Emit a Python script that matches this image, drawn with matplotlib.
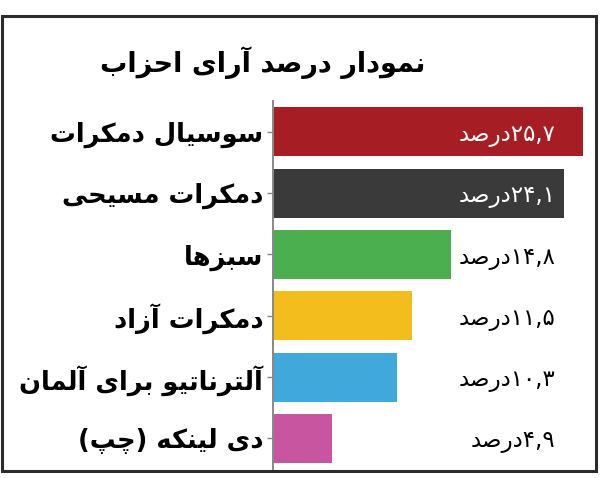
import matplotlib
matplotlib.use("Agg")
import matplotlib.pyplot as plt
from matplotlib.patches import Rectangle

# ---------------- data ----------------
title = "نمودار درصد آرای احزاب"
parties = ["سوسیال دمکرات", "دمکرات مسیحی", "سبزها", "دمکرات آزاد",
           "آلترناتیو برای آلمان", "دی لینکه (چپ)"]
values = [25.7, 24.1, 14.8, 11.5, 10.3, 4.9]
value_labels = ["۲۵,۷درصد", "۲۴,۱درصد", "۱۴,۸درصد", "۱۱,۵درصد", "۱۰,۳درصد", "۴,۹درصد"]
colors = ["#A61E23", "#3A3A3A", "#4BAE4F", "#F2BD1D", "#41A8DB", "#C8559F"]

# ------------- minimal Arabic-script shaping + RTL ordering -------------
FORMS = {  # isolated, final, initial, medial
    'ا': ('\uFE8D', '\uFE8E', None, None),
    'آ': ('\uFE81', '\uFE82', None, None),
    'ب': ('\uFE8F', '\uFE90', '\uFE91', '\uFE92'),
    'پ': ('\uFB56', '\uFB57', '\uFB58', '\uFB59'),
    'ت': ('\uFE95', '\uFE96', '\uFE97', '\uFE98'),
    'ح': ('\uFEA1', '\uFEA2', '\uFEA3', '\uFEA4'),
    'چ': ('\uFB7A', '\uFB7B', '\uFB7C', '\uFB7D'),
    'د': ('\uFEA9', '\uFEAA', None, None),
    'ر': ('\uFEAD', '\uFEAE', None, None),
    'ز': ('\uFEAF', '\uFEB0', None, None),
    'س': ('\uFEB1', '\uFEB2', '\uFEB3', '\uFEB4'),
    'ص': ('\uFEB9', '\uFEBA', '\uFEBB', '\uFEBC'),
    'ک': ('\uFB8E', '\uFB8F', '\uFB90', '\uFB91'),
    'ل': ('\uFEDD', '\uFEDE', '\uFEDF', '\uFEE0'),
    'م': ('\uFEE1', '\uFEE2', '\uFEE3', '\uFEE4'),
    'ن': ('\uFEE5', '\uFEE6', '\uFEE7', '\uFEE8'),
    'ه': ('\uFEE9', '\uFEEA', '\uFEEB', '\uFEEC'),
    'و': ('\uFEED', '\uFEEE', None, None),
    'ی': ('\uFBFC', '\uFBFD', '\uFBFE', '\uFBFF'),
}
MIRROR = {'(': ')', ')': '('}


def shape(s):
    out = []
    n = len(s)
    for i, c in enumerate(s):
        if c not in FORMS:
            out.append(c)
            continue
        f = FORMS[c]
        prev = s[i - 1] if i > 0 else None
        nxt = s[i + 1] if i < n - 1 else None
        jp = prev in FORMS and FORMS[prev][2] is not None
        jn = f[2] is not None and nxt in FORMS
        if jp and jn:
            out.append(f[3])
        elif jp:
            out.append(f[1])
        elif jn:
            out.append(f[2])
        else:
            out.append(f[0])
    return ''.join(out)


def rtl(s):
    sh = shape(s)
    runs = []
    i = 0
    while i < len(sh):
        if sh[i].isdigit():
            j = i
            while j < len(sh) and (sh[j].isdigit() or (sh[j] in ',.٫' and j + 1 < len(sh) and sh[j + 1].isdigit())):
                j += 1
            runs.append(sh[i:j])
            i = j
        else:
            runs.append(MIRROR.get(sh[i], sh[i]))
            i += 1
    return ''.join(reversed(runs))


# ---------------- figure ----------------
plt.rcParams['font.family'] = ['DejaVu Sans']
fig = plt.figure(figsize=(6.0, 4.78), dpi=100)
fig.patch.set_facecolor('white')

# outer frame
fig.add_artist(Rectangle((0.004, 0.015), 0.989, 0.952, transform=fig.transFigure,
                         fill=False, edgecolor='#2b2b2b', linewidth=2.2))

fig.text(0.437, 0.868, rtl(title), ha='center', va='center',
         fontsize=19.5, fontweight='bold', color='black')

ax = fig.add_axes([0.455, 0.019, 0.52, 0.769])
y = list(range(len(parties)))
ax.barh(y, values, height=0.8, color=colors)
ax.set_xlim(0, 25.87)
ax.set_ylim(len(parties) - 0.5, -0.5)
ax.set_yticks(y)
ax.set_yticklabels([rtl(p) for p in parties], fontsize=18.5, fontweight='bold')
ax.tick_params(axis='y', length=4, width=1, color='#888888', pad=3)
ax.set_xticks([])
for sp in ['top', 'right', 'bottom']:
    ax.spines[sp].set_visible(False)
ax.spines['left'].set_color('#888888')
ax.spines['left'].set_linewidth(1.4)

lab_x = 0.905  # axes fraction
lab_data = lab_x * ax.get_xlim()[1]
for yi, v, lab in zip(y, values, value_labels):
    col = 'white' if v > lab_data else 'black'
    ax.text(lab_x, yi + 0.06, rtl(lab), transform=ax.get_yaxis_transform(),
            ha='right', va='center', fontsize=16.5, color=col)

fig.savefig('out.png', dpi=100, facecolor='white')
